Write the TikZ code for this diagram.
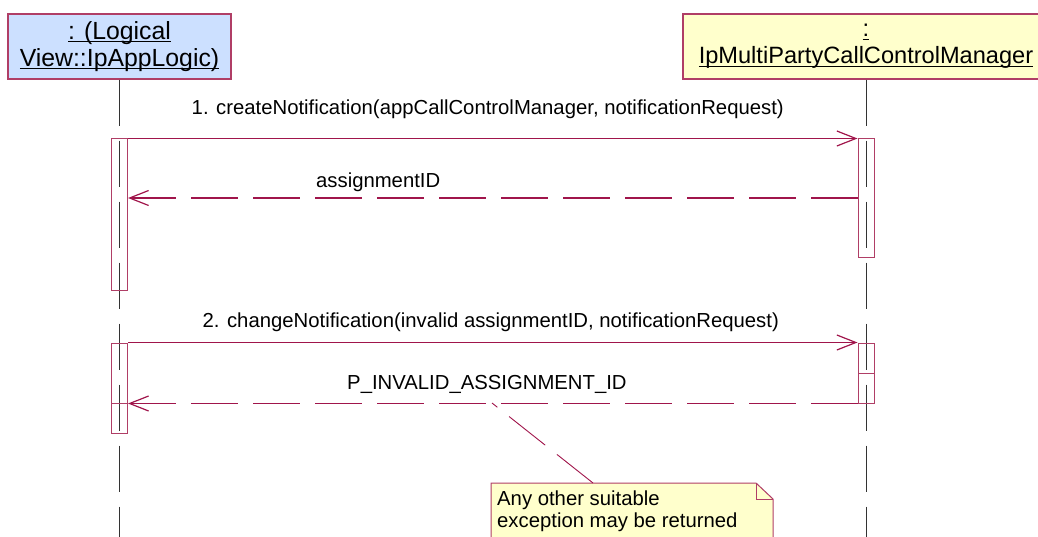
\documentclass[tikz,border=0pt]{standalone}
\usepackage{fontspec}
\setmainfont{Liberation Sans}
\usetikzlibrary{arrows.meta,positioning}
\definecolor{LineRed}{HTML}{A0154B}
\definecolor{BoxRed}{HTML}{B03E66}
\definecolor{ObjBlue}{HTML}{CCE0FF}
\definecolor{NoteYellow}{HTML}{FFFFCC}
\newcommand{\ulbox}[1]{\setbox0\hbox{#1}\rlap{\rule[-3pt]{\wd0}{1.2pt}}\box0}

\begin{document}
\begin{tikzpicture}[x=1pt,y=-1pt,font=\fontsize{20.3}{22}\selectfont,
obj/.style={draw=BoxRed,line width=1.2pt,minimum height=65pt,inner sep=0pt,align=center,font=\fontsize{24.8}{27}\selectfont},
act/.style={draw=BoxRed,line width=1pt,minimum width=16pt,inner sep=0pt},
lifeline/.style={line width=0.9pt,black!80,dash pattern=on 46pt off 15pt},
msg/.style={LineRed,line width=1.2pt,-{Straight Barb[length=19pt,width=15pt]}},
ret/.style={msg,dash pattern=on 47pt off 15pt},
notelink/.style={LineRed,line width=0.9pt,dash pattern=on 46pt off 15pt},
lab/.style={anchor=base,black}]
\useasboundingbox (0,0) rectangle (1038,537);
% objects
\node[obj,fill=ObjBlue,minimum width=223pt] (app) at (119.5,46.5) {\ulbox{: (Logical}\\\ulbox{View::IpAppLogic)}};
\node[obj,fill=NoteYellow,minimum width=366pt,font=\fontsize{23.6}{27}\selectfont] (mgr) at (866,46.5) {\ulbox{:}\\\ulbox{IpMultiPartyCallControlManager}};
\coordinate (bottom) at (0,545);
\draw[lifeline] (app.south) -- (app.south |- bottom);
\draw[lifeline] (mgr.south) -- (mgr.south |- bottom);
% activations
\node[act,minimum height=151pt] (a1) at (119.5,214.5) {};
\node[act,minimum height=119pt] (m1) at (866,198.5) {};
\node[act,minimum height=60pt] (a2) at (119.5,373) {};
\node[act,minimum height=30pt] (a3) at (119.5,418) {};
\node[act,minimum height=30pt] (m2) at (866,358) {};
\node[act,minimum height=30pt] (m3) at (866,388) {};
% messages
\coordinate (r1) at (0,198);
\draw[msg] (a1.north east) -- node[lab,yshift=24pt,xshift=-5pt]{1. createNotification(appCallControlManager, notificationRequest)} (m1.north west);
\draw[ret] (m1.west |- r1) -- node[lab,pos=0.657,yshift=10pt]{assignmentID} (a1.east |- r1);
\draw[msg] (a2.north east) -- node[lab,yshift=15pt,xshift=-2pt]{2. changeNotification(invalid assignmentID, notificationRequest)} (m2.north west);
\draw[ret] (m3.south west) -- node[lab,pos=0.508,yshift=14pt]{P\_INVALID\_ASSIGNMENT\_ID} (a2.south east);
% note
\draw[BoxRed,fill=NoteYellow,line width=1pt] (491,545) -- (491,483) -- (756,483) -- (773,499) -- (773,545);
\draw[BoxRed,line width=1pt] (756,483) |- (773,499);
\node[anchor=north west,inner sep=0pt,align=left] (note) at (497,490.5) {Any other suitable\\exception may be returned};
\coordinate (ntip) at (593,483);
\coordinate (nanchor) at (492,403);
\draw[notelink] (ntip) -- (nanchor);
\end{tikzpicture}
\end{document}
